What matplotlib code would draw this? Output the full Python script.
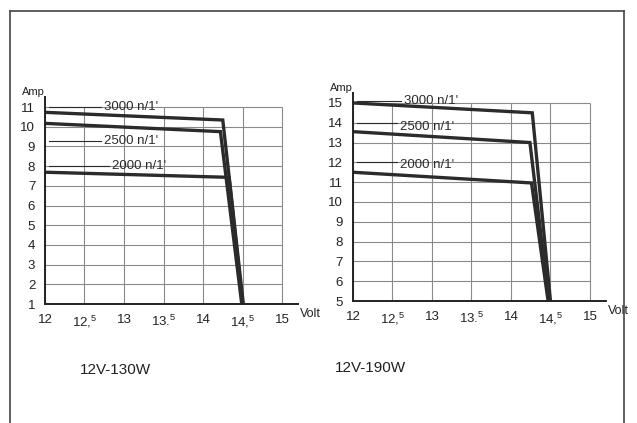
import matplotlib
matplotlib.use('Agg')
import matplotlib.pyplot as plt
from matplotlib.lines import Line2D

plt.rcParams['font.family'] = ['Liberation Sans', 'DejaVu Sans']
plt.rcParams['mathtext.fontset'] = 'custom'
plt.rcParams['mathtext.rm'] = 'Liberation Sans'
plt.rcParams['mathtext.it'] = 'Liberation Sans'

# 12V-130W curves (Volt, Amp)
v_130 = {'3000': [12, 14.25, 14.51], '2500': [12, 14.22, 14.49], '2000': [12, 14.33, 14.5]}
a_130 = {'3000': [10.73, 10.34, 1], '2500': [10.17, 9.75, 1], '2000': [7.69, 7.43, 1]}
# 12V-190W curves
v_190 = {'3000': [12, 14.27, 14.5], '2500': [12, 14.24, 14.48], '2000': [12, 14.26, 14.47]}
a_190 = {'3000': [15.0, 14.5, 5], '2500': [13.55, 13.0, 5], '2000': [11.5, 10.96, 5]}

volt_ticks = [12, 12.5, 13, 13.5, 14, 14.5, 15]
volt_labels = ['12', r'12,$^{5}$', '13', r'13.$^{5}$', '14', r'14,$^{5}$', '15']
amp_130 = list(range(1, 12))
amp_190 = list(range(5, 16))

# label text (x, y) and leader height
lab_130 = {'3000': (12.75, 11.0, 11), '2500': (12.75, 9.25, 9.25), '2000': (12.85, 8.0, 8)}
lab_190 = {'3000': (12.65, 15.1, 15.1), '2500': (12.6, 13.8, 14), '2000': (12.6, 11.85, 12)}

INK = '#2b2b2b'
GRID = '#8a8a8a'

fig = plt.figure(figsize=(6.37, 4.23), dpi=100)

# scanned frame
for xs, ys in [([0.015, 0.015], [0.0, 0.975]), ([0.015, 0.98], [0.975, 0.975]), ([0.98, 0.98], [0.975, 0.0])]:
    fig.add_artist(Line2D(xs, ys, transform=fig.transFigure, color='#444444', lw=1.2))


def draw(ax, vv, aa, amp_ticks, labels, title, title_x, ylim):
    ax.set_xlim(12, 15.2)
    ax.set_ylim(*ylim)
    ax.hlines(amp_ticks, 12, 15, color=GRID, lw=0.8)
    ax.vlines(volt_ticks, amp_ticks[0], amp_ticks[-1], color=GRID, lw=0.8)
    for k in ['3000', '2500', '2000']:
        ax.plot(vv[k], aa[k], color=INK, lw=2.4, solid_joinstyle='miter')
        tx, ty, yl = labels[k]
        ax.plot([12.05, tx - 0.04], [yl, yl], color=INK, lw=0.8)
        ax.text(tx, ty, k + " n/1'", fontsize=9.5, va='center', color=INK)
    for s in ['top', 'right']:
        ax.spines[s].set_visible(False)
    for s in ['left', 'bottom']:
        ax.spines[s].set_color('#222222')
        ax.spines[s].set_linewidth(1.4)
    ax.set_xticks(volt_ticks)
    ax.set_xticklabels(volt_labels)
    ax.set_yticks(amp_ticks)
    ax.tick_params(length=0, labelsize=9.5, colors='#222222', pad=7)
    ax.text(0, 1.0, 'Amp', transform=ax.transAxes, ha='right', va='bottom',
            fontsize=8, color='#222222')
    ax.text(1.01, -0.05, 'Volt', transform=ax.transAxes, ha='left', va='center',
            fontsize=9, color='#222222')
    ax.text(title_x, -0.32, title, transform=ax.transAxes, ha='center', va='center',
            fontsize=11, color='#222222')
    ax.patch.set_alpha(0)


ax1 = fig.add_axes([0.0706, 0.2813, 0.397, 0.489])
draw(ax1, v_130, a_130, amp_130, lab_130, '12V-130W', 0.28, (1, 11.5))

ax2 = fig.add_axes([0.554, 0.2884, 0.397, 0.4917])
draw(ax2, v_190, a_190, amp_190, lab_190, '12V-190W', 0.07, (5, 15.5))

fig.savefig('out.png', dpi=100)
